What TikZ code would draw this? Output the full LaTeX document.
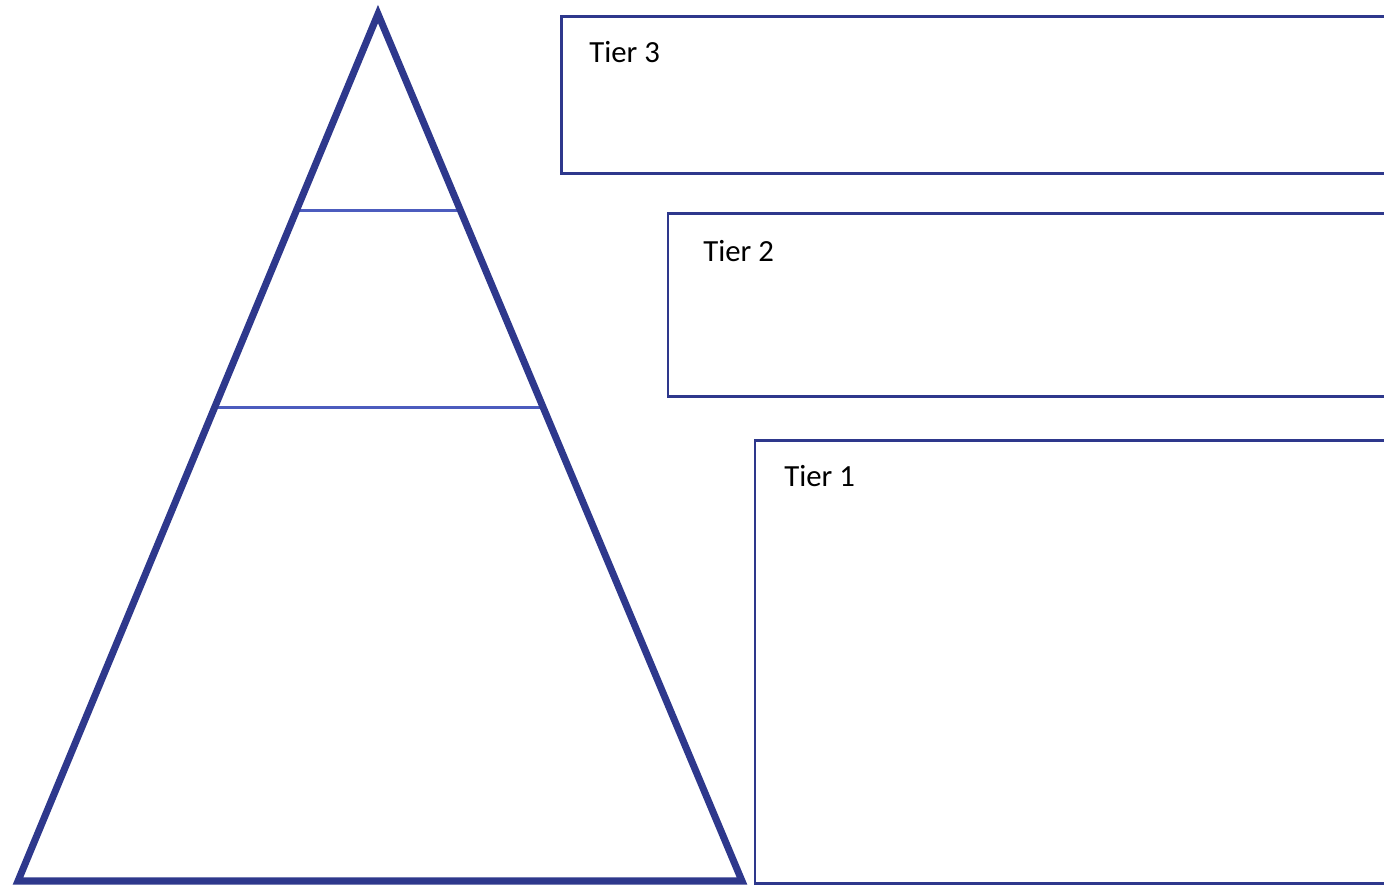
\documentclass[tikz,border=0pt]{standalone}
\usepackage{fontspec}
\setmainfont{Carlito}
\usepackage{tikz}
\usetikzlibrary{calc}
\definecolor{pyramidNavy}{RGB}{46,56,140}
\definecolor{tierLine}{RGB}{76,92,190}

\begin{document}
\begin{tikzpicture}[x=0.02cm, y=-0.02cm,
    tierbox/.style={draw=pyramidNavy, line width=1.7pt, anchor=north west,
      inner sep=0pt, minimum width=17.4cm},
    tierlabel/.style={font=\fontsize{17.5}{21}\selectfont, anchor=base west,
      inner sep=0pt}
  ]
    \useasboundingbox (0,0) rectangle (1384,885);
    \clip (0,0) rectangle (1384,885);
    % Pyramid corners
    \coordinate (apex) at (378,14);
    \coordinate (bl) at (18,881);
    \coordinate (br) at (742,881);
    % Tier dividers
    \draw[tierLine, line width=1.8pt] ($(apex)!0.227!(bl)$) -- ($(apex)!0.227!(br)$);
    \draw[tierLine, line width=1.8pt] ($(apex)!0.454!(bl)$) -- ($(apex)!0.454!(br)$);
    \draw[pyramidNavy, line width=4pt, line join=miter] (apex) -- (bl) -- (br) -- cycle;
    % Boxes on the right
    \node[tierbox, minimum height=3.13cm] (t3) at (560,15.5) {};
    \node[tierbox, minimum height=3.66cm] (t2) at (666.5,212) {};
    \node[tierbox, minimum height=8.86cm] (t1) at (753.5,439) {};
    \node[tierlabel] (l3) at (589,63) {Tier 3};
    \node[tierlabel] (l2) at (703,262) {Tier 2};
    \node[tierlabel] (l1) at (784,486) {Tier 1};
  \end{tikzpicture}
\end{document}
